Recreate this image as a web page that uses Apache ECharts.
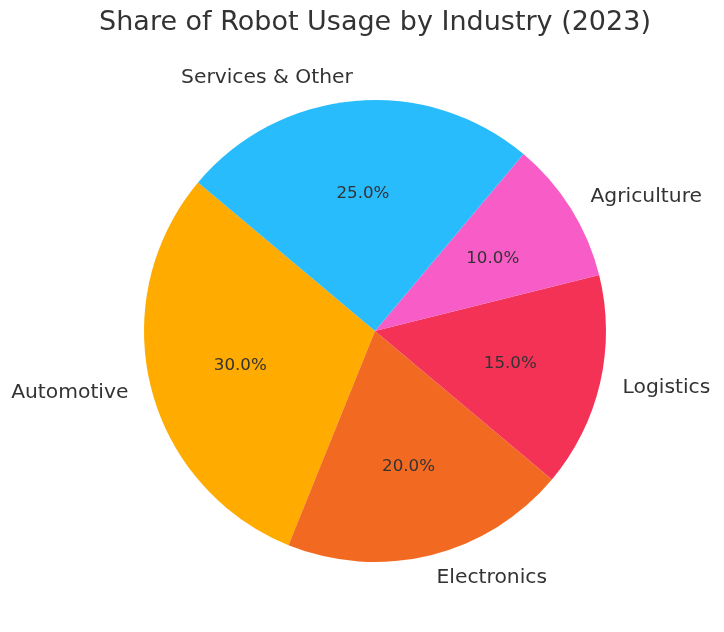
<!DOCTYPE html>
<html>
<head>
<meta charset="utf-8">
<script src="https://cdn.jsdelivr.net/npm/echarts@6/dist/echarts.min.js"></script>
<style>
html,body{margin:0;padding:0;background:#fff;}
#chart{width:724px;height:632px;}
</style>
</head>
<body>
<div id="chart"></div>
<script>
var categories = ["Automotive", "Electronics", "Logistics", "Agriculture", "Services & Other"];
var values = [30, 20, 15, 10, 25];
var colors = ["#FFAB00", "#F26A21", "#F43256", "#F75CC7", "#29BCFD"];
var titleText = "Share of Robot Usage by Industry (2023)";

var R = 231;
var center = [375, 331];
var font = "DejaVu Sans";

var outerData = categories.map(function (c, i) {
  return { name: c, value: values[i], itemStyle: { color: colors[i] } };
});
var innerData = categories.map(function (c, i) {
  return { name: c, value: values[i] };
});

var chart = echarts.init(document.getElementById('chart'), null, { renderer: 'canvas' });
chart.setOption({
  animation: false,
  backgroundColor: '#ffffff',
  graphic: [{
    type: 'text',
    x: center[0],
    y: 23,
    silent: true,
    style: {
      text: titleText,
      align: 'center',
      verticalAlign: 'middle',
      fontFamily: font,
      fontSize: 27,
      fill: '#333333'
    }
  }],
  series: [
    {
      type: 'pie',
      center: center,
      radius: [0, R],
      startAngle: 140,
      clockwise: false,
      avoidLabelOverlap: false,
      silent: true,
      data: outerData,
      itemStyle: { borderWidth: 0 },
      label: {
        show: true,
        position: 'outside',
        formatter: '{b}',
        fontFamily: font,
        fontSize: 20.3,
        color: '#333333',
        distanceToLabelLine: 0
      },
      labelLine: { show: false, length: R * 0.1, length2: 0 }
    },
    {
      type: 'pie',
      center: [center[0], center[1] + 1],
      radius: [R * 0.2 - 5.5, R],
      startAngle: 140,
      clockwise: false,
      avoidLabelOverlap: false,
      silent: true,
      data: innerData,
      itemStyle: { color: 'rgba(0,0,0,0)', borderWidth: 0 },
      label: {
        show: true,
        position: 'inside',
        formatter: function (p) { return p.percent.toFixed(1) + '%'; },
        fontFamily: font,
        fontSize: 16.7,
        color: '#333333'
      },
      labelLine: { show: false }
    }
  ]
});
</script>
</body>
</html>
